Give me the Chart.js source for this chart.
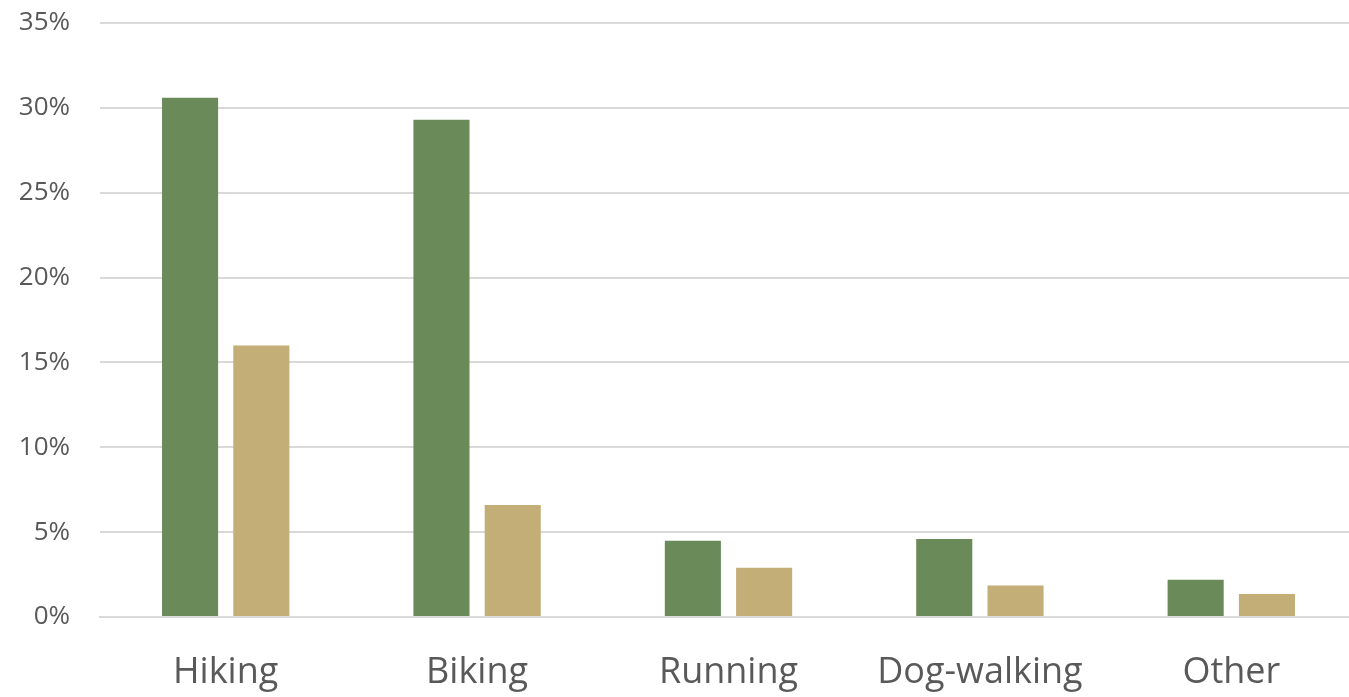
<!DOCTYPE html>
<html>
<head>
<meta charset="utf-8">
<script src="https://cdn.jsdelivr.net/npm/chart.js@4"></script>
<style>
  html, body { margin: 0; padding: 0; background: #fff; overflow: hidden; }
  #wrap { width: 1357px; height: 697px; position: relative; }
</style>
</head>
<body>
<div id="wrap"><canvas id="activityChart"></canvas></div>
<script>
// Chart data
var categories = ["Hiking", "Biking", "Running", "Dog-walking", "Other"];
var seriesA = [30.6, 29.3, 4.5, 4.6, 2.2];
var seriesB = [16.0, 6.6, 2.9, 1.85, 1.35];
var tickValues = [0, 5, 10, 15, 20, 25, 30, 35];

document.addEventListener("DOMContentLoaded", function () {
    var canvas = document.getElementById("activityChart");
    var chart = new Chart(canvas, {
        type: "bar",
        data: {
            labels: categories,
            datasets: [{
                label: "Series 1",
                backgroundColor: "#6b8a5a",
                data: seriesA
            }, {
                label: "Series 2",
                backgroundColor: "#c4ae78",
                data: seriesB
            }]
        },
        options: {
            responsive: true,
            maintainAspectRatio: false,
            animation: false,
            layout: { padding: { top: 23, right: 0, left: 0, bottom: 0 } },
            barPercentage: 0.787,
            categoryPercentage: 0.567,
            plugins: {
                legend: { display: false },
                tooltip: { enabled: false }
            },
            scales: {
                x: {
                    grid: { display: false, drawTicks: false },
                    border: { color: "#d9d9d9", width: 2 },
                    ticks: {
                        color: "#595959",
                        padding: 34,
                        font: { family: "'Open Sans', 'Noto Sans', sans-serif", size: 36 }
                    },
                    afterFit: function (scale) { scale.height = 80; }
                },
                y: {
                    min: 0,
                    max: 35,
                    afterBuildTicks: function (scale) {
                        scale.ticks = tickValues.map(function (v) { return { value: v }; });
                    },
                    grid: { color: "#d9d9d9", lineWidth: 2, drawTicks: false },
                    border: { display: false },
                    ticks: {
                        color: "#595959",
                        padding: 30,
                        font: { family: "'Open Sans', 'Noto Sans', sans-serif", size: 26 },
                        callback: function (v) { return v + "%"; }
                    },
                    afterFit: function (scale) {
                        scale.width = 100;
                        // don't let the top label push the plot area down
                        scale.paddingTop = 0;
                        scale.paddingBottom = 0;
                    }
                }
            }
        }
    });
});
</script>
</body>
</html>
